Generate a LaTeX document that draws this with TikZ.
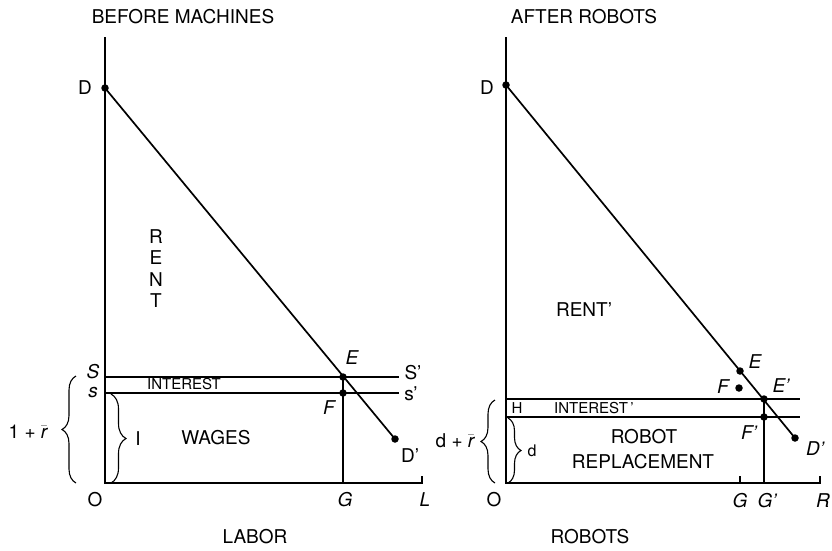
\documentclass[tikz,border=0pt]{standalone}
\usepackage{fontspec}
\setmainfont{TeX Gyre Heros}
\usetikzlibrary{decorations.pathreplacing}
\tikzset{
  ax/.style={line width=1.1pt},
  dem/.style={line width=1.7pt},
  dot/.style={circle,fill,inner sep=0pt,minimum size=7.5pt},
  lbl/.style={inner sep=0pt,font=\fontsize{19}{19}\selectfont},
  ilbl/.style={inner sep=0pt,font=\fontsize{19}{19}\selectfont\itshape},
  small/.style={inner sep=0pt,font=\fontsize{15}{15}\selectfont},
  brc/.style={decorate,decoration={brace,amplitude=#1},line width=1.1pt},
}
\newcommand\pr{\textquoteright}
\begin{document}
\begin{tikzpicture}[x=1pt,y=-1pt]
\useasboundingbox (0,0) rectangle (832,550);
% ---------------- left panel ----------------
\coordinate (Ltop) at (105,37);
\coordinate (LO) at (105,483);
\coordinate (LL) at (422,483);
\coordinate (LLt) at (422,476);
\draw[ax] (Ltop) -- (LO) -- (LL) -- (LLt);
\node[dot] (D1) at (105,88) {};
\node[dot] (Dp1) at (395,439) {};
\node[dot] (E1) at (343,377) {};
\node[dot] (F1) at (343,393) {};
\coordinate (S1a) at (105,377);
\coordinate (S1b) at (399,377);
\coordinate (s1a) at (105,393);
\coordinate (s1b) at (399,393);
\coordinate (G1) at (343,483);
\draw[ax] (S1a) -- (S1b);
\draw[ax] (s1a) -- (s1b);
\draw[ax] (E1.center) -- (G1);
\draw[dem] (D1.center) -- (Dp1.center);
% braces
\coordinate (b1a) at (76,483);
\coordinate (b1b) at (76,376);
\draw[brc=14pt] (b1a) -- (b1b);
\coordinate (b2a) at (111,394);
\coordinate (b2b) at (111,483);
\draw[brc=15pt] (b2a) -- (b2b);
% labels
\node[lbl] (t1) at (183,17) {BEFORE MACHINES};
\node[lbl] (x1) at (255,537) {LABOR};
\node[lbl] (lD1) at (85,88) {D};
\node[lbl] (lDp1) at (410,456) {D\pr};
\node[ilbl] (lE1) at (352,358) {E};
\node[ilbl] (lF1) at (329,408) {F};
\node[lbl] (lSp) at (413,373) {S\pr};
\node[lbl] (lsp) at (411,394) {s\pr};
\node[ilbl] (lS) at (93,372) {S};
\node[ilbl] (ls) at (93,393) {s};
\node[lbl] (lO1) at (95,500) {O};
\node[ilbl] (lG1) at (345,500) {G};
\node[ilbl] (lL) at (425,500) {L};
\node[lbl] (lR) at (156,237) {R};
\node[lbl] (lE) at (156,258) {E};
\node[lbl] (lN) at (156,280) {N};
\node[lbl] (lT) at (156,301) {T};
\node[small] (int1) at (184,384) {INTEREST};
\node[lbl] (wag) at (216,438) {WAGES};
\node[lbl] (lI) at (138,439) {I};
\node[lbl] (r1) at (28,432) {1 + $\bar{\mathit{r}}$};
% ---------------- right panel ----------------
\coordinate (Rtop) at (506,37);
\coordinate (RO) at (506,483);
\coordinate (RR) at (820,483);
\coordinate (RRt) at (820,476);
\draw[ax] (Rtop) -- (RO) -- (RR) -- (RRt);
\coordinate (Gt) at (740,476);
\coordinate (Gb) at (740,483);
\draw[ax] (Gt) -- (Gb);
\node[dot] (D2) at (506,85) {};
\node[dot] (Dp2) at (795,438) {};
\node[dot] (E2) at (740,371) {};
\node[dot] (F2) at (739,388) {};
\node[dot] (Ep2) at (764,399) {};
\node[dot] (Fp2) at (764,417) {};
\coordinate (h1a) at (506,399);
\coordinate (h1b) at (800,399);
\coordinate (h2a) at (506,417);
\coordinate (h2b) at (800,417);
\coordinate (Gp) at (764,483);
\draw[ax] (h1a) -- (h1b);
\draw[ax] (h2a) -- (h2b);
\draw[ax] (Ep2.center) -- (Gp);
\draw[dem] (D2.center) -- (Dp2.center);
% braces
\coordinate (b3a) at (495,483);
\coordinate (b3b) at (495,400);
\draw[brc=14pt] (b3a) -- (b3b);
\coordinate (b4a) at (508,418);
\coordinate (b4b) at (508,483);
\draw[brc=13pt] (b4a) -- (b4b);
% labels
\node[lbl] (t2) at (584,17) {AFTER ROBOTS};
\node[lbl] (x2) at (590,537) {ROBOTS};
\node[lbl] (lD2) at (487,88) {D};
\node[ilbl] (lDp2) at (815,449) {D\pr};
\node[ilbl] (lE2) at (755,362) {E};
\node[ilbl] (lF2) at (723,387) {F};
\node[ilbl] (lEp2) at (781,386) {E\pr};
\node[ilbl] (lFp2) at (749,433) {F\pr};
\node[lbl] (lO2) at (494,500) {O};
\node[ilbl] (lG2) at (740,501) {G};
\node[ilbl] (lGp) at (767,501) {G\pr};
\node[ilbl] (lR2) at (823,501) {R};
\node[lbl] (rent) at (584,310) {RENT\pr};
\node[small] (lH) at (517,408) {H};
\node[small] (int2) at (594,408) {INTEREST\,\pr};
\node[lbl] (rob) at (644,437) {ROBOT};
\node[lbl] (rep) at (643,462) {REPLACEMENT};
\node[font=\fontsize{16}{16}\selectfont,inner sep=0pt] (ld) at (532,451) {d};
\node[lbl] (dr) at (455,441) {d + $\bar{\mathit{r}}$};
\end{tikzpicture}
\end{document}
